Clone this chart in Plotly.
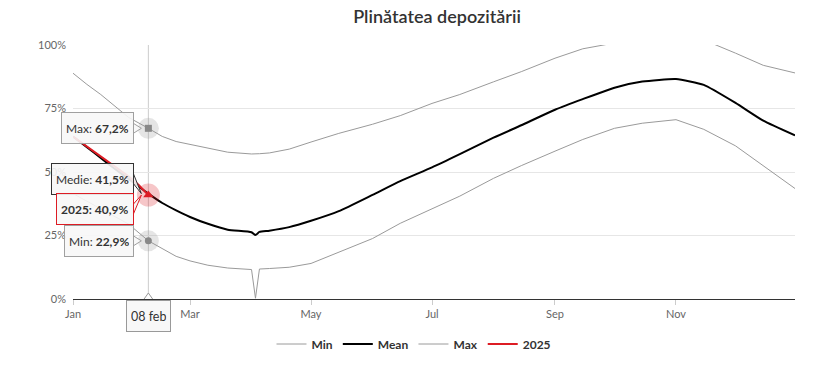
import plotly.graph_objects as go

# ---- data ----
dates = ['2025-01-01', '2025-01-08', '2025-01-15', '2025-01-22', '2025-01-29',
         '2025-02-08', '2025-02-15', '2025-02-22', '2025-03-01', '2025-03-10',
         '2025-03-20', '2025-04-01', '2025-04-03', '2025-04-05', '2025-04-10',
         '2025-04-20', '2025-05-01', '2025-05-15', '2025-06-01', '2025-06-15',
         '2025-07-01', '2025-07-15', '2025-08-01', '2025-08-15', '2025-09-01',
         '2025-09-15', '2025-10-01', '2025-10-15', '2025-11-01', '2025-11-15',
         '2025-12-01', '2025-12-15', '2025-12-31']
min_vals = [41.5, 38.5, 35.5, 32.5, 29.5, 22.9, 19.7, 16.8, 15.0, 13.3,
            12.2, 11.6, 0.3, 11.8, 12.0, 12.5, 14.0, 18.5, 23.8, 29.8,
            35.5, 40.5, 47.5, 52.5, 58.2, 62.8, 67.2, 69.2, 70.6, 66.8,
            60.3, 52.5, 43.5]
mean_vals = [64.0, 59.8, 55.5, 51.3, 47.3, 41.5, 37.8, 34.9, 32.3, 29.6,
             27.3, 26.3, 25.2, 26.4, 26.9, 28.3, 30.8, 34.6, 41.0, 46.4,
             51.8, 57.0, 63.5, 68.4, 74.5, 78.7, 83.2, 85.6, 86.6, 84.3,
             77.2, 70.2, 64.4]
max_vals = [88.9, 84.5, 80.5, 76.0, 71.5, 67.2, 64.0, 62.0, 60.8, 59.3,
            57.8, 57.1, 57.1, 57.2, 57.5, 59.0, 61.8, 65.2, 68.8, 72.2,
            77.0, 80.5, 85.5, 89.5, 94.8, 98.5, 100.8, 102.5, 103.5, 102.0,
            96.8, 92.0, 89.0]
dates_2025 = ['2025-01-01', '2025-01-08', '2025-01-15', '2025-01-22',
              '2025-01-29', '2025-02-03', '2025-02-08']
vals_2025 = [64.0, 60.0, 56.2, 52.3, 48.3, 45.0, 40.9]

hover_date = '2025-02-08'
hover_label = '08 feb'
y_ticks = [0, 25, 50, 75, 100]
y_ticktext = ['0%', '25%', '50%', '75%', '100%']

# ---- styles ----
FONT = 'Lato, Roboto, sans-serif'
C_MINMAX = '#9a9a9a'
C_MEAN = '#000000'
C_2025 = '#dd1c24'

hi = dates.index(hover_date)
v_max, v_mean, v_min = max_vals[hi], mean_vals[hi], min_vals[hi]
v_25 = vals_2025[dates_2025.index(hover_date)]


def fmt(v):
    return f'{v:.1f}'.replace('.', ',') + '%'


fig = go.Figure()
fig.add_trace(go.Scatter(x=dates, y=min_vals, name='Min', mode='lines',
                         line=dict(color=C_MINMAX, width=1)))
fig.add_trace(go.Scatter(x=dates, y=mean_vals, name='Mean', mode='lines',
                         line=dict(color=C_MEAN, width=2, shape='spline',
                                   smoothing=0.5)))
fig.add_trace(go.Scatter(x=dates, y=max_vals, name='Max', mode='lines',
                         line=dict(color=C_MINMAX, width=1)))
fig.add_trace(go.Scatter(x=dates_2025, y=vals_2025, name='2025', mode='lines',
                         line=dict(color=C_2025, width=2)))

# hover halos + markers
fig.add_trace(go.Scatter(x=[hover_date] * 2, y=[v_max, v_min], mode='markers',
                         marker=dict(size=21, color='rgba(150,150,150,0.25)'),
                         showlegend=False, hoverinfo='skip'))
fig.add_trace(go.Scatter(x=[hover_date], y=[v_25], mode='markers',
                         marker=dict(size=23, color='rgba(221,28,36,0.25)'),
                         showlegend=False, hoverinfo='skip'))
fig.add_trace(go.Scatter(x=[hover_date], y=[v_max], mode='markers',
                         marker=dict(size=7, symbol='square', color='#888'),
                         showlegend=False, hoverinfo='skip'))
fig.add_trace(go.Scatter(x=[hover_date], y=[v_min], mode='markers',
                         marker=dict(size=7, symbol='circle', color='#888'),
                         showlegend=False, hoverinfo='skip'))
fig.add_trace(go.Scatter(x=[hover_date], y=[v_25], mode='markers',
                         marker=dict(size=9, symbol='triangle-up', color=C_2025),
                         showlegend=False, hoverinfo='skip'))

# crosshair
fig.add_shape(type='line', xref='x', yref='paper', x0=hover_date, x1=hover_date,
              y0=0, y1=1, line=dict(color='#cccccc', width=1), layer='below')

box_bg = 'rgba(247,247,247,0.9)'
tips = [
    ('Max', v_max, '#a0a0a0', 0),
    ('Medie', v_mean, '#333333', 15),
    ('2025', v_25, C_2025, -14),
    ('Min', v_min, '#a0a0a0', 0),
]
for name, v, bc, ys in tips:
    if name == '2025':
        txt = f'<b>{name}: {fmt(v)}</b>'
    else:
        txt = f'{name}: <b>{fmt(v)}</b>'
    fig.add_annotation(x=hover_date, y=v, xref='x', yref='y', text=txt,
                       showarrow=False, xanchor='right', yanchor='middle',
                       xshift=-14, yshift=ys, bgcolor=box_bg, bordercolor=bc,
                       borderwidth=1, borderpad=4, height=22,
                       font=dict(family=FONT, size=12, color='#333333'))
    # small callout pointer towards the point
    fig.add_shape(type='path', xref='x', yref='y', xsizemode='pixel',
                  ysizemode='pixel', xanchor=hover_date, yanchor=v,
                  path=f'M -15,{ys + 5} L -7,0 L -15,{ys - 5} Z',
                  fillcolor=box_bg, line=dict(color=bc, width=1))

fig.add_annotation(x=hover_date, y=0, xref='x', yref='y', text=hover_label,
                   showarrow=False, xanchor='center', yanchor='top', yshift=-1,
                   bgcolor=box_bg, bordercolor='#999999', borderwidth=1,
                   borderpad=4, height=22,
                   font=dict(family=FONT, size=12.5, color='#333333'))
fig.add_shape(type='path', xref='x', yref='y', xsizemode='pixel',
              ysizemode='pixel', xanchor=hover_date, yanchor=0,
              path='M -5,-1 L 0,6 L 5,-1 Z', fillcolor='white',
              line=dict(color='#999999', width=1))

fig.update_layout(
    width=827, height=365,
    margin=dict(l=73, r=32, t=45, b=66, autoexpand=False),
    paper_bgcolor='white', plot_bgcolor='white',
    font=dict(family=FONT, color='#666666', size=11),
    title=dict(text='Plinătatea depozitării', x=437 / 827, xanchor='center',
               y=1 - 17 / 365, yanchor='middle', xref='container', yref='container',
               font=dict(family=FONT, size=18, color='#333333', weight=600)),
    showlegend=True,
    legend=dict(orientation='h', x=(414 - 73) / 722, xanchor='center',
                y=(299 - 344) / 254, yanchor='middle',
                font=dict(family=FONT, size=12, color='#333333', weight='bold'),
                itemwidth=30, tracegroupgap=0),
    hovermode=False,
)
fig.update_xaxes(type='date', range=['2025-01-01', '2025-12-31'],
                 dtick='M2', tick0='2025-01-01', tickformat='%b',
                 showgrid=False, showline=True, linecolor='#333333', linewidth=1,
                 ticks='outside', ticklen=5, tickcolor='#cccccc',
                 tickfont=dict(family=FONT, size=11, color='#666666'),
                 zeroline=False, automargin=False)
fig.update_yaxes(range=[0, 100], tickvals=y_ticks, ticktext=y_ticktext,
                 showgrid=True, gridcolor='#e6e6e6', gridwidth=1,
                 zeroline=False, showline=False, ticks='',
                 ticklabelstandoff=6, automargin=False,
                 tickfont=dict(family=FONT, size=11, color='#666666'))

fig.write_html('out.html', config={'displayModeBar': False},
               post_script="document.body.style.margin='0';")
